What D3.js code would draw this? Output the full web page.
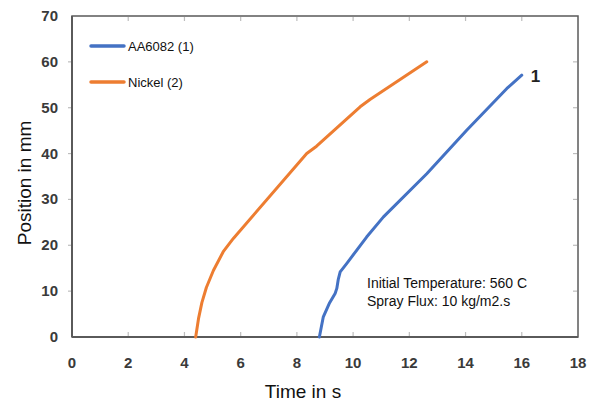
<!DOCTYPE html>
<html>
<head>
<meta charset="utf-8">
<script src="https://cdn.jsdelivr.net/npm/d3@7"></script>
<style>
  body { margin: 0; background: #fff; }
  svg { display: block; }
</style>
</head>
<body>
<svg id="chart" width="598" height="403"></svg>
<script>
var xTicks = [0, 2, 4, 6, 8, 10, 12, 14, 16, 18]
var yTicks = [0, 10, 20, 30, 40, 50, 60, 70]

var aaTime = [8.80, 8.94, 9.15, 9.36, 9.42, 9.47, 9.54, 9.77, 10.48, 11.08, 12.62, 14.04, 15.47, 16.0]
var aaPos  = [0, 4.4, 7.3, 9.5, 10.6, 12.5, 14.2, 16.0, 21.8, 26.2, 35.6, 45.1, 54.2, 57.1]

var niTime = [4.40, 4.50, 4.62, 4.78, 5.03, 5.38, 5.74, 8.35, 8.70, 10.25, 10.6, 12.62]
var niPos  = [0, 4.0, 7.5, 10.8, 14.5, 18.6, 21.5, 40.0, 41.6, 50.2, 51.8, 60.0]

var seriesNames = ['AA6082 (1)', 'Nickel (2)']
var seriesColors = ['#4472C4', '#ED7D31']
var noteLines = ['Initial Temperature: 560 C', 'Spray Flux: 10 kg/m2.s']

var svg = d3.select('#chart')
var pLeft = 72, pRight = 578, pTop = 16, pBottom = 337

var x = d3.scaleLinear().domain([0, 18]).range([pLeft, pRight])
var y = d3.scaleLinear().domain([0, 70]).range([pBottom, pTop])

// frame
svg.append('rect')
    .attr('x', pLeft).attr('y', pTop)
    .attr('width', pRight - pLeft).attr('height', pBottom - pTop)
    .attr('fill', 'none').attr('stroke', '#5a5a5a').attr('stroke-width', 1.5)

// inner tick marks on the frame
var tickCol = '#bdbdbd'
xTicks.slice(1, -1).forEach(function (t) {
    svg.append('line').attr('x1', x(t)).attr('x2', x(t)).attr('y1', pBottom - 1).attr('y2', pBottom - 5)
        .attr('stroke', tickCol).attr('stroke-width', 1.2)
    svg.append('line').attr('x1', x(t)).attr('x2', x(t)).attr('y1', pTop + 1).attr('y2', pTop + 5)
        .attr('stroke', tickCol).attr('stroke-width', 1.2)
})
yTicks.slice(1, -1).forEach(function (t) {
    svg.append('line').attr('x1', pRight - 1).attr('x2', pRight - 5).attr('y1', y(t)).attr('y2', y(t))
        .attr('stroke', tickCol).attr('stroke-width', 1.2)
    svg.append('line').attr('x1', pLeft - 1).attr('x2', pLeft - 4).attr('y1', y(t)).attr('y2', y(t))
        .attr('stroke', tickCol).attr('stroke-width', 1.2)
})

// axis lines a bit heavier
svg.append('line').attr('x1', pLeft).attr('x2', pLeft).attr('y1', pTop).attr('y2', pBottom)
    .attr('stroke', '#5a5a5a').attr('stroke-width', 2)
svg.append('line').attr('x1', pLeft).attr('x2', pRight).attr('y1', pBottom).attr('y2', pBottom)
    .attr('stroke', '#5a5a5a').attr('stroke-width', 2)

var tickFont = '"Liberation Sans Narrow", "Liberation Sans", Arial, sans-serif'

svg.selectAll('.xl').data(xTicks).enter().append('text')
    .attr('class', 'xl')
    .attr('x', function (d) { return x(d) })
    .attr('y', 368)
    .attr('text-anchor', 'middle')
    .attr('font-family', tickFont).attr('font-weight', 'bold').attr('font-size', 15)
    .attr('fill', '#3a3a3a')
    .text(function (d) { return d })

svg.selectAll('.yl').data(yTicks).enter().append('text')
    .attr('class', 'yl')
    .attr('x', 58)
    .attr('y', function (d) { return y(d) + 5 })
    .attr('text-anchor', 'end')
    .attr('font-family', tickFont).attr('font-weight', 'bold').attr('font-size', 15)
    .attr('fill', '#3a3a3a')
    .text(function (d) { return d })

// axis titles
var titleFont = '"Liberation Sans", Arial, sans-serif'
svg.append('text')
    .attr('x', 303).attr('y', 398)
    .attr('text-anchor', 'middle')
    .attr('font-family', titleFont).attr('font-size', 19).attr('fill', '#111')
    .text('Time in s')
svg.append('text')
    .attr('transform', 'translate(31,' + 183 + ') rotate(-90)')
    .attr('text-anchor', 'middle')
    .attr('font-family', titleFont).attr('font-size', 19).attr('fill', '#111')
    .text('Position in mm')

// curves (straight segments between read-off points)
var line = d3.line()
    .x(function (d) { return x(d[0]) })
    .y(function (d) { return y(d[1]) })

var aaData = d3.zip(aaTime, aaPos)
var niData = d3.zip(niTime, niPos)

svg.append('path').datum(niData).attr('d', line)
    .attr('fill', 'none').attr('stroke', seriesColors[1]).attr('stroke-width', 3)
    .attr('stroke-linecap', 'round').attr('stroke-linejoin', 'round')
svg.append('path').datum(aaData).attr('d', line)
    .attr('fill', 'none').attr('stroke', seriesColors[0]).attr('stroke-width', 3)
    .attr('stroke-linecap', 'round').attr('stroke-linejoin', 'round')

// curve label
svg.append('text')
    .attr('x', x(16) + 9).attr('y', y(57) + 6)
    .attr('font-family', tickFont).attr('font-weight', 'bold').attr('font-size', 17)
    .attr('fill', '#222')
    .text('1')

// legend
var legY = [46, 82]
seriesNames.forEach(function (name, i) {
    svg.append('line')
        .attr('x1', 91).attr('x2', 124).attr('y1', legY[i]).attr('y2', legY[i])
        .attr('stroke', seriesColors[i]).attr('stroke-width', 3.5).attr('stroke-linecap', 'round')
    svg.append('text')
        .attr('x', 128).attr('y', legY[i] + 5)
        .attr('font-family', titleFont).attr('font-size', 13).attr('fill', '#111')
        .text(name)
})

// note
noteLines.forEach(function (s, i) {
    svg.append('text')
        .attr('x', 367).attr('y', 288 + i * 18)
        .attr('font-family', titleFont).attr('font-size', 14).attr('fill', '#111')
        .text(s)
})
</script>
</body>
</html>
